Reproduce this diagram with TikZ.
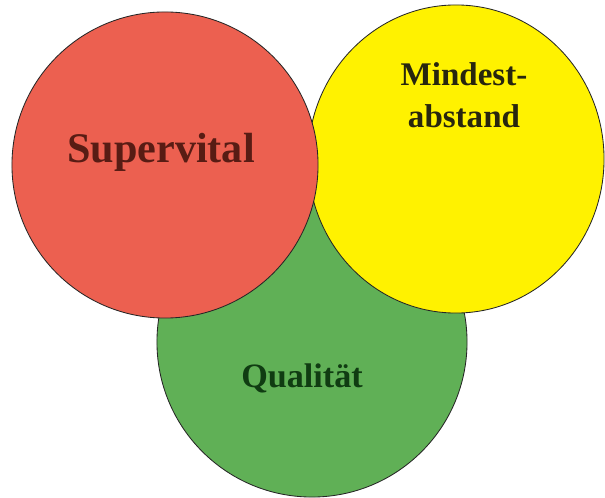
\documentclass[tikz,border=0pt]{standalone}
\usepackage{xcolor}
\usepackage{fontspec}
\setmainfont{Liberation Serif}
\usetikzlibrary{shapes.geometric}

\definecolor{kreisrot}{RGB}{236,96,80}
\definecolor{kreisgelb}{RGB}{255,242,0}
\definecolor{kreisgruen}{RGB}{96,176,86}
\definecolor{textrot}{RGB}{88,28,20}
\definecolor{textgelb}{RGB}{40,38,14}
\definecolor{textgruen}{RGB}{16,60,18}

\tikzset{
  kreis/.style={draw=black!85,line width=0.6pt,inner sep=0pt},
  beschriftung/.style={font=\bfseries,anchor=base,align=center}
}

\begin{document}
\begin{tikzpicture}[x=0.025cm,y=-0.025cm]
    \useasboundingbox[fill=white] (0,0) rectangle (605,498);
    \node[kreis,circle,fill=kreisgruen,minimum size=7.75cm] (gruen) at (312,342) {};
    \node[kreis,ellipse,fill=kreisgelb,minimum width=7.4cm,minimum height=7.7cm] (gelb) at (456,159) {};
    \node[kreis,circle,fill=kreisrot,minimum size=7.65cm] (rot) at (165,165) {};
    \node[beschriftung,text=textrot,font=\bfseries\fontsize{30}{36}\selectfont] (supervital) at (161,163) {Supervital};
    \node[beschriftung,text=textgelb,font=\bfseries\fontsize{23.5}{28.4}\selectfont] (mindestabstand) at (464,128) {Mindest-\\[1.5pt]abstand};
    \node[beschriftung,text=textgruen,font=\bfseries\fontsize{24.3}{29}\selectfont] (qualitaet) at (302,387) {Qualität};
  \end{tikzpicture}
\end{document}
